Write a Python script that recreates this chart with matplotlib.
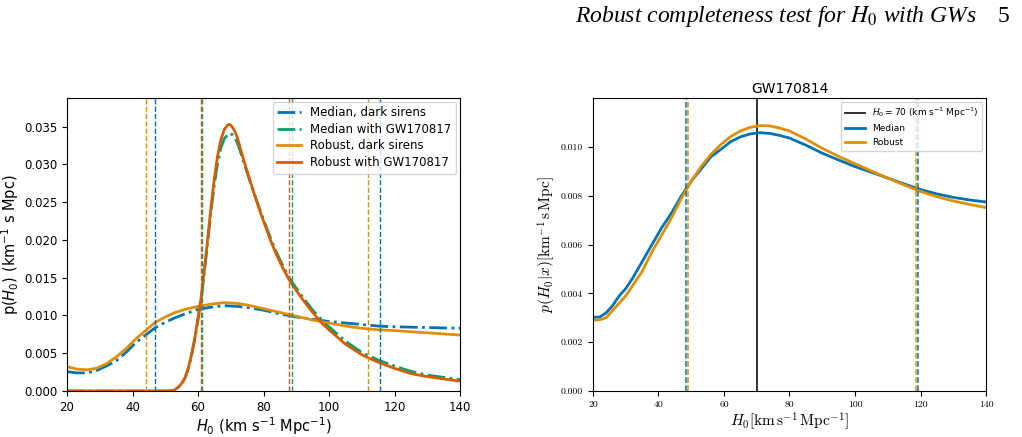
import numpy as np
import matplotlib
matplotlib.use("Agg")
import matplotlib.pyplot as plt

# ---- left panel data ----
h_dark = [20, 23, 26, 29, 32, 35, 38, 41, 44, 47, 50, 53, 56, 60, 64, 68, 72, 76, 80, 85, 90, 95, 100,
          105, 110, 115, 120, 130, 140]
med_dark = [0.00256, 0.0024, 0.00238, 0.0027, 0.0033, 0.0040, 0.0051, 0.0064, 0.0074, 0.0084, 0.0091, 0.0097,
            0.0102, 0.0108, 0.0111, 0.0113, 0.0112, 0.0110, 0.0107, 0.0102, 0.0098, 0.0095, 0.0092, 0.0090,
            0.0088, 0.0086, 0.0085, 0.0084, 0.0083]
rob_dark = [0.0032, 0.0029, 0.0028, 0.0030, 0.0036, 0.0045, 0.0056, 0.0069, 0.0080, 0.0091, 0.0098, 0.0104,
            0.0108, 0.0112, 0.0115, 0.0117, 0.0116, 0.0113, 0.0109, 0.0104, 0.0099, 0.0094, 0.0090, 0.0086,
            0.0083, 0.0081, 0.0080, 0.0077, 0.0074]

h_gw = [20, 40, 50, 52, 53, 54, 55, 56, 57, 58, 59, 60, 61, 62, 63, 64, 65, 66, 67, 68, 69, 69.6, 70, 71,
        72, 73, 74, 75, 76, 77, 78, 79, 80, 82, 84, 86, 88, 90, 92, 95, 98, 100, 105, 110, 115, 120, 125,
        130, 135, 140]
rob_gw = [0, 0, 0, 0.00002, 0.0002, 0.0005, 0.0010, 0.0017, 0.0030, 0.0048, 0.0070, 0.0097, 0.0125, 0.0163,
          0.0204, 0.0245, 0.0282, 0.0312, 0.0333, 0.0346, 0.0352, 0.0353, 0.0352, 0.0346, 0.0336, 0.0320,
          0.0305, 0.0291, 0.0277, 0.0263, 0.0250, 0.0237, 0.0225, 0.0201, 0.0180, 0.0162, 0.0146, 0.0133,
          0.0121, 0.0104, 0.0089, 0.0081, 0.0062, 0.0048, 0.0038, 0.0030, 0.0023, 0.0019, 0.0016, 0.0013]
med_gw = [0, 0, 0, 0.00002, 0.0002, 0.0005, 0.0010, 0.0017, 0.0029, 0.0046, 0.0068, 0.0094, 0.0123, 0.0160,
          0.0199, 0.0239, 0.0274, 0.0302, 0.0322, 0.0334, 0.0339, 0.0341, 0.0341, 0.0337, 0.0329, 0.0316,
          0.0302, 0.0289, 0.0276, 0.0263, 0.0251, 0.0239, 0.0227, 0.0204, 0.0183, 0.0165, 0.0149, 0.0136,
          0.0124, 0.0107, 0.0093, 0.0085, 0.0066, 0.0051, 0.0041, 0.0033, 0.0026, 0.0021, 0.0018, 0.0015]

# credible interval bounds (left)
ci_med_dark = [47.0, 115.6]
ci_med_gw = [61.2, 88.8]
ci_rob_dark = [44.2, 111.8]
ci_rob_gw = [60.9, 87.7]

# ---- right panel data ----
h_r = [20, 22, 24, 26, 28, 30, 32, 35, 38, 41, 44, 47, 50, 53, 56, 59, 62, 65, 68, 71, 74, 77, 80, 85, 90,
       95, 100, 105, 110, 115, 120, 125, 130, 135, 140]
med_r = [0.00302, 0.00303, 0.0032, 0.0035, 0.0039, 0.0042, 0.0046, 0.0053, 0.0060, 0.0067, 0.0073, 0.0080,
         0.0086, 0.0091, 0.0096, 0.0099, 0.01022, 0.01042, 0.01054, 0.01059, 0.01056, 0.01048, 0.01037,
         0.01008, 0.00975, 0.00947, 0.0092, 0.00897, 0.00873, 0.00849, 0.00826, 0.00808, 0.00794, 0.00783,
         0.00775]
rob_r = [0.0029, 0.00292, 0.0030, 0.0033, 0.0036, 0.0039, 0.0043, 0.0049, 0.0057, 0.0064, 0.0071, 0.0079,
         0.0086, 0.0092, 0.0097, 0.0101, 0.01043, 0.01066, 0.01081, 0.01088, 0.01087, 0.01078, 0.01066,
         0.01033, 0.00995, 0.00962, 0.00932, 0.00902, 0.00873, 0.00845, 0.00818, 0.00797, 0.00779, 0.00765,
         0.00752]
ci_med_r = [48.4, 119.2]
ci_rob_r = [48.9, 118.7]

c_blue = "#0173B2"
c_orange = "#DE8F05"
c_green = "#029E73"
c_red = "#D55E00"

fig = plt.figure(figsize=(10.22, 4.37), dpi=100)

# running page header
fig.text(0.956, 0.962, r"Robust completeness test for $H_0$ with GWs", family="Liberation Serif",
         style="italic", fontsize=17, ha="right", va="center", math_fontfamily="stix")
fig.text(0.982, 0.962, "5", family="Liberation Serif", fontsize=17, ha="center", va="center")

# left
ax = fig.add_axes([0.0656, 0.1053, 0.3845, 0.6705])
ax.plot(h_dark, med_dark, color=c_blue, ls="-.", lw=2, label="Median, dark sirens")
ax.plot(h_gw, med_gw, color=c_green, ls="-.", lw=2, label="Median with GW170817")
ax.plot(h_dark, rob_dark, color=c_orange, ls="-", lw=2, label="Robust, dark sirens")
ax.plot(h_gw, rob_gw, color=c_red, ls="-", lw=2, label="Robust with GW170817")
for v in ci_med_dark:
    ax.axvline(v, color=c_blue, ls="--", lw=1)
for v in ci_med_gw:
    ax.axvline(v, color=c_green, ls="--", lw=1)
for v in ci_rob_dark:
    ax.axvline(v, color=c_orange, ls="--", lw=1)
for v in ci_rob_gw:
    ax.axvline(v, color=c_red, ls="--", lw=1)
ax.set_xlim(20, 140)
ax.set_ylim(0, 0.0388)
ax.set_yticks(np.arange(0, 0.0351, 0.005))
ax.tick_params(labelsize=8.5)
ax.set_xlabel(r"$H_0$ (km s$^{-1}$ Mpc$^{-1}$)", fontsize=10.5, labelpad=1)
ax.set_ylabel(r"p($H_0$) (km$^{-1}$ s Mpc)", fontsize=10.5, labelpad=2)
ax.legend(loc="upper right", fontsize=8.5, handlelength=2.0, borderaxespad=0.3, labelspacing=0.3)

# right
cm = {"family": "cmr10"}
ax2 = fig.add_axes([0.5802, 0.1053, 0.3846, 0.6697])
ax2.axvline(70, color="#222222", lw=1.3, label=r"$H_0=70$ (km s$^{-1}$ Mpc$^{-1}$)")
ax2.plot(h_r, med_r, color=c_blue, lw=2, label="Median")
ax2.plot(h_r, rob_r, color=c_orange, lw=2, label="Robust")
for v in ci_med_r:
    ax2.axvline(v, color=c_blue, ls="--", lw=1.1)
for v in ci_rob_r:
    ax2.axvline(v, color=c_orange, ls="--", lw=1.1)
ax2.set_xlim(20, 140)
ax2.set_ylim(0, 0.012)
ax2.set_yticks(np.arange(0, 0.0101, 0.002))
ax2.set_yticklabels(["%.3f" % t for t in np.arange(0, 0.0101, 0.002)], fontdict=cm, fontsize=7)
ax2.set_xticks(range(20, 141, 20))
ax2.set_xticklabels([str(t) for t in range(20, 141, 20)], fontdict=cm, fontsize=7)
ax2.set_title("GW170814", fontsize=10, pad=4)
ax2.set_xlabel(r"$H_0[\mathrm{km\,s^{-1}\,Mpc^{-1}}]$", fontsize=11, math_fontfamily="cm", labelpad=1)
ax2.set_ylabel(r"$p(H_0|x)[\mathrm{km^{-1}\,s\,Mpc}]$", fontsize=11, math_fontfamily="cm", labelpad=2)
ax2.legend(loc="upper right", handlelength=2.2, borderaxespad=0.4, labelspacing=0.5,
           prop={"family": "DejaVu Sans", "size": 6.5})

fig.savefig("out.png", dpi=100)
